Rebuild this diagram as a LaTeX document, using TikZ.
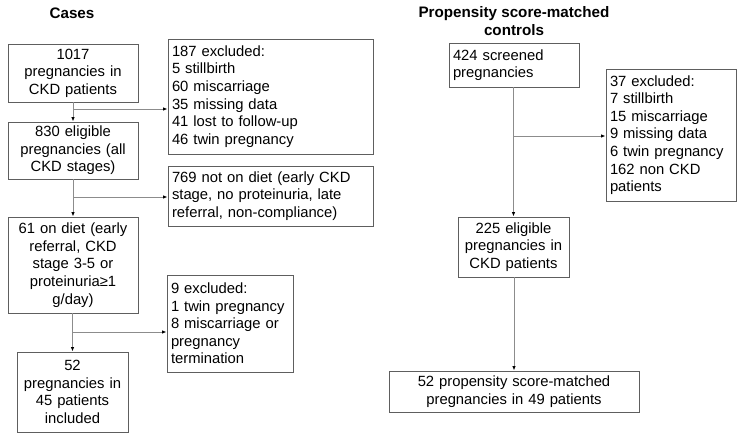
\documentclass[tikz,border=0pt]{standalone}
\usepackage{fontspec}
\setmainfont{Liberation Sans}
\usetikzlibrary{arrows.meta,positioning,calc}
\definecolor{BoxGray}{HTML}{5E5E5E}
\definecolor{LineGray}{HTML}{8C8C8C}

\begin{document}
\begin{tikzpicture}[x=1pt, y=-1pt,
    every node/.style={font=\fontsize{14.8}{17.6}\selectfont},
    box/.style={draw=BoxGray, line width=0.9pt, inner sep=4pt},
    mid/.style={box, align=center},
    side/.style={box, align=left},
    arr/.style={draw=LineGray, line width=0.9pt, -{Latex[length=4.5pt,width=3.5pt,color=black]}}]
  \useasboundingbox (0,0) rectangle (742,439);
  % titles
  \node[font=\fontsize{15.2}{17.6}\selectfont\bfseries] (tcases) at (72,13) {Cases};
  \node[font=\fontsize{15.2}{17.6}\selectfont\bfseries, align=center] (tctrl) at (514,21) {Propensity score-matched\\controls};
  % cases column
  \node[mid, minimum width=130, minimum height=58, text width=122] (all) at (73,73) {1017\\pregnancies in\\CKD patients};
  \node[mid, minimum width=130, minimum height=55, text width=122] (elig) at (73,150.5) {830 eligible\\pregnancies (all\\CKD stages)};
  \node[mid, minimum width=130, minimum height=96, text width=122] (diet) at (73,265) {61 on diet (early\\referral, CKD\\stage 3-5 or\\proteinuria≥1\\g/day)};
  \node[mid, minimum width=111, minimum height=80, text width=103] (incl) at (72.5,392) {52\\pregnancies in\\45 patients\\included};
  \node[side, minimum width=205, minimum height=115, text width=197] (excl) at (270.5,96.5) {187 excluded:\\5 stillbirth\\60 miscarriage\\35 missing data\\41 lost to follow-up\\46 twin pregnancy};
  \node[side, minimum width=205, minimum height=60, text width=197] (nodiet) at (270.5,196) {769 not on diet (early CKD\\stage, no proteinuria, late\\referral, non-compliance)};
  \node[side, minimum width=126, minimum height=97, text width=118] (exnine) at (230,323.5) {9 excluded:\\1 twin pregnancy\\8 miscarriage or\\pregnancy\\termination};
  % controls column
  \node[side, minimum width=130, minimum height=44, text width=122] (scr) at (514,65) {424 screened\\pregnancies};
  \node[side, minimum width=130, minimum height=132, text width=122] (exctl) at (671,135) {37 excluded:\\7 stillbirth\\15 miscarriage\\9 missing data\\6 twin pregnancy\\162 non CKD\\patients};
  \node[mid, minimum width=111, minimum height=60, text width=103] (eligctl) at (513.5,247) {225 eligible\\pregnancies in\\CKD patients};
  \node[mid, minimum width=250, minimum height=41, text width=242] (match) at (514,391.5) {52 propensity score-matched\\pregnancies in 49 patients};
  % branch points
  \coordinate (b1) at (73,109);
  \coordinate (b2) at (73,197);
  \coordinate (b3) at (73,332);
  \coordinate (b4) at (513.5,136);
  % connectors
  \draw[arr] (all) -- (elig);
  \draw[arr] (elig) -- (diet);
  \draw[arr] (diet.south -| incl.north) -- (incl);
  \draw[arr] (scr.south -| eligctl.north) -- (eligctl);
  \draw[arr] (eligctl.south -| match.north) -- (match);
  \draw[arr] (b1) -- (b1 -| excl.west);
  \draw[arr] (b2) -- (b2 -| nodiet.west);
  \draw[arr] (b3) -- (b3 -| exnine.west);
  \draw[arr] (b4) -- (b4 -| exctl.west);
\end{tikzpicture}
\end{document}
